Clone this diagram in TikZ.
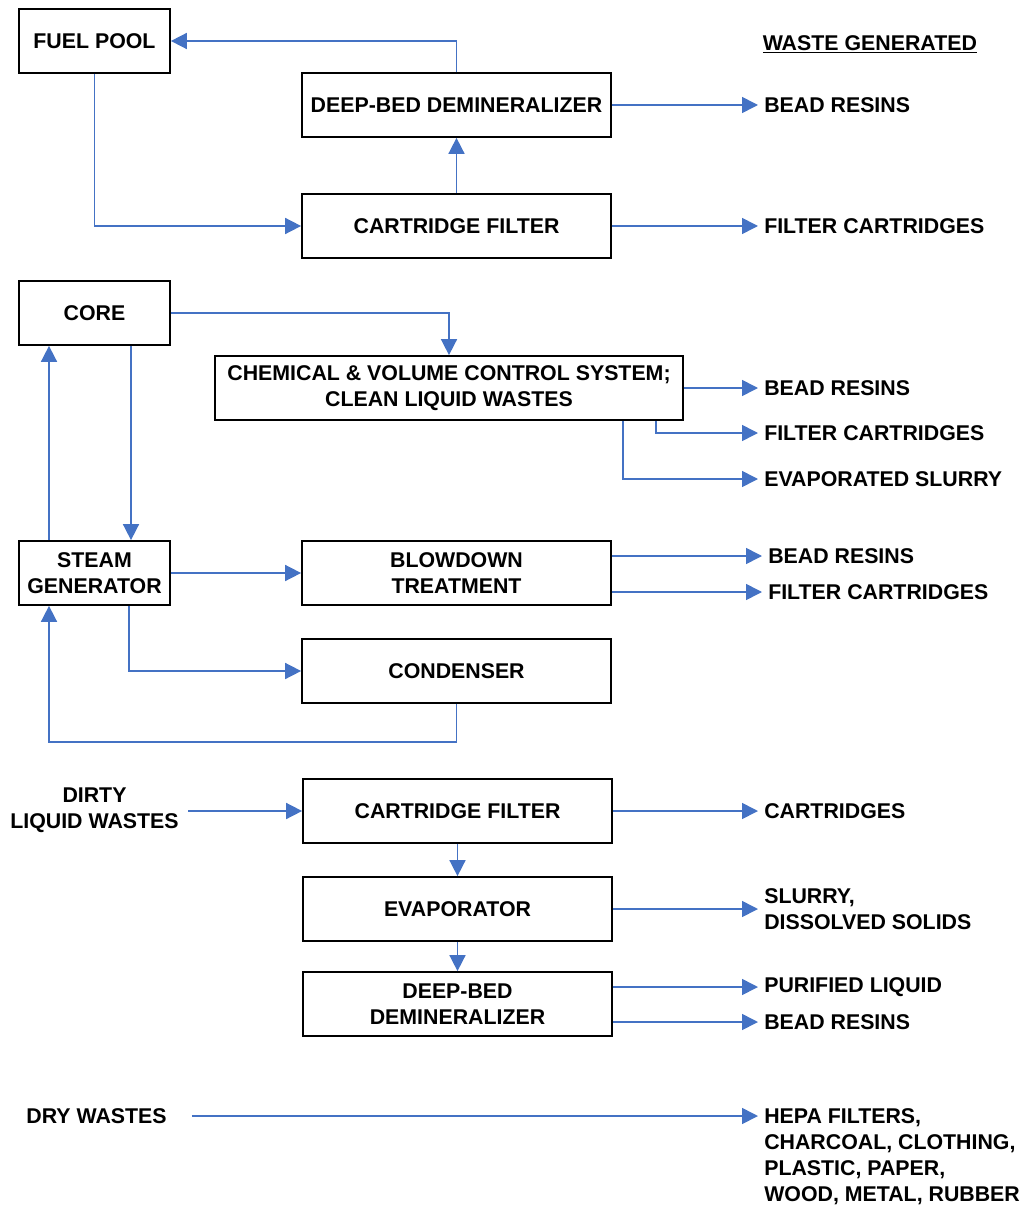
\documentclass[tikz,border=0pt]{standalone}
\usepackage{fontspec}
\setmainfont{Liberation Sans}
\usetikzlibrary{arrows.meta,positioning}
\definecolor{flowblue}{RGB}{68,114,196}
\newcommand{\wastesize}{\bfseries\fontsize{16pt}{19.4pt}\selectfont}

\begin{document}
\begin{tikzpicture}[x=0.75pt,y=-0.75pt]
\tikzset{unit/.style={draw, line width=1.3pt, minimum height=48pt, inner sep=2pt, align=center, font=\wastesize},
	smallunit/.style={unit, minimum width=113.25pt},
	wideunit/.style={unit, minimum width=231.75pt},
	waste/.style={anchor=west, inner xsep=4.5pt, inner ysep=0pt, align=left, font=\wastesize},
	source/.style={align=center, inner xsep=5pt, inner ysep=0pt, font=\wastesize},
	flow/.style={draw=flowblue, line width=1.2pt, -{Triangle[length=12pt,width=12pt]}}}
	\useasboundingbox (0,0) rectangle (1023,1205);

	% fuel pool loop
	\node[smallunit] (pool) at (94.5,41) {FUEL POOL};
	\node[wideunit] (demin1) at (456.5,105) {DEEP-BED DEMINERALIZER};
	\node[wideunit, below=41.45pt of demin1] (cf1) {CARTRIDGE FILTER};
	\node[waste, inner sep=0pt] (title) at (762.5,44) {\underline{WASTE GENERATED}};
	\node[waste] (br1) at (758,105) {BEAD RESINS};
	\node[waste] (fc1) at (758,226) {FILTER CARTRIDGES};
	\draw[flow] (demin1.north) |- (pool.east);
	\draw[flow] (pool.south) |- (cf1.west);
	\draw[flow] (cf1) -- (demin1);
	\draw[flow] (demin1) -- (br1);
	\draw[flow] (cf1.east) -- (cf1.east -| fc1.west);

	% primary loop
	\node[smallunit] (core) at (94.5,313) {CORE};
	\node[unit, minimum width=351pt] (cvcs) at (449,388) {CHEMICAL \& VOLUME CONTROL SYSTEM;\\CLEAN LIQUID WASTES};
	\node[waste] (br2) at (758,388) {BEAD RESINS};
	\node[waste] (fc2) at (758,433) {FILTER CARTRIDGES};
	\node[waste] (es) at (758,479) {EVAPORATED SLURRY};
	\node[smallunit] (sg) at (94.5,573) {STEAM\\GENERATOR};
	\node[wideunit] (bd) at (456.5,573) {BLOWDOWN\\TREATMENT};
	\node[wideunit] (cond) at (456.5,671) {CONDENSER};
	\node[waste] (br3) at (762,556) {BEAD RESINS};
	\node[waste] (fc3) at (762,592) {FILTER CARTRIDGES};
	\draw[flow] (core.east) -| (cvcs.north);
	\draw[flow] (131,0 |- core.south) -- (131,0 |- sg.north);
	\draw[flow] (49,0 |- sg.north) -- (49,0 |- core.south);
	\draw[flow] (cvcs) -- (br2);
	\draw[flow] (656,0 |- cvcs.south) |- (fc2.west);
	\draw[flow] (623,0 |- cvcs.south) |- (es.west);
	\draw[flow] (sg) -- (bd);
	\draw[flow] (bd.east |- br3) -- (br3);
	\draw[flow] (bd.east |- fc3) -- (fc3);
	\draw[flow] (129,0 |- sg.south) |- (cond.west);
	\draw[flow] (cond.south) -- ++(0,38) -| (49,0 |- sg.south);

	% dirty liquid wastes
	\node[source] (dirty) at (94.5,810) {DIRTY\\LIQUID WASTES};
	\node[wideunit] (cf2) at (457.5,811) {CARTRIDGE FILTER};
	\node[wideunit] (evap) at (457.5,909) {EVAPORATOR};
	\node[wideunit] (demin2) at (457.5,1004) {DEEP-BED\\DEMINERALIZER};
	\node[waste] (cart) at (758,811) {CARTRIDGES};
	\node[waste] (slurry) at (758,909) {SLURRY,\\DISSOLVED SOLIDS};
	\node[waste] (pl) at (758,987) {PURIFIED LIQUID};
	\node[waste] (br4) at (758,1022) {BEAD RESINS};
	\draw[flow] ([xshift=2pt]dirty.east |- cf2) -- (cf2);
	\draw[flow] (cf2) -- (evap);
	\draw[flow] (evap) -- (demin2);
	\draw[flow] (cf2) -- (cart);
	\draw[flow] (evap.east) -- (evap.east -| slurry.west);
	\draw[flow] (demin2.east |- pl) -- (pl);
	\draw[flow] (demin2.east |- br4) -- (br4);

	% dry wastes
	\node[source, inner xsep=0pt] (dry) at (96.5,1116) {DRY WASTES};
	\node[waste, anchor=north west] (hepa) at (758,1108.5) {HEPA FILTERS,\\CHARCOAL, CLOTHING,\\PLASTIC, PAPER,\\WOOD, METAL, RUBBER};
	\draw[flow] ([xshift=18.75pt]dry.east) -- (dry -| hepa.west);
\end{tikzpicture}
\end{document}
